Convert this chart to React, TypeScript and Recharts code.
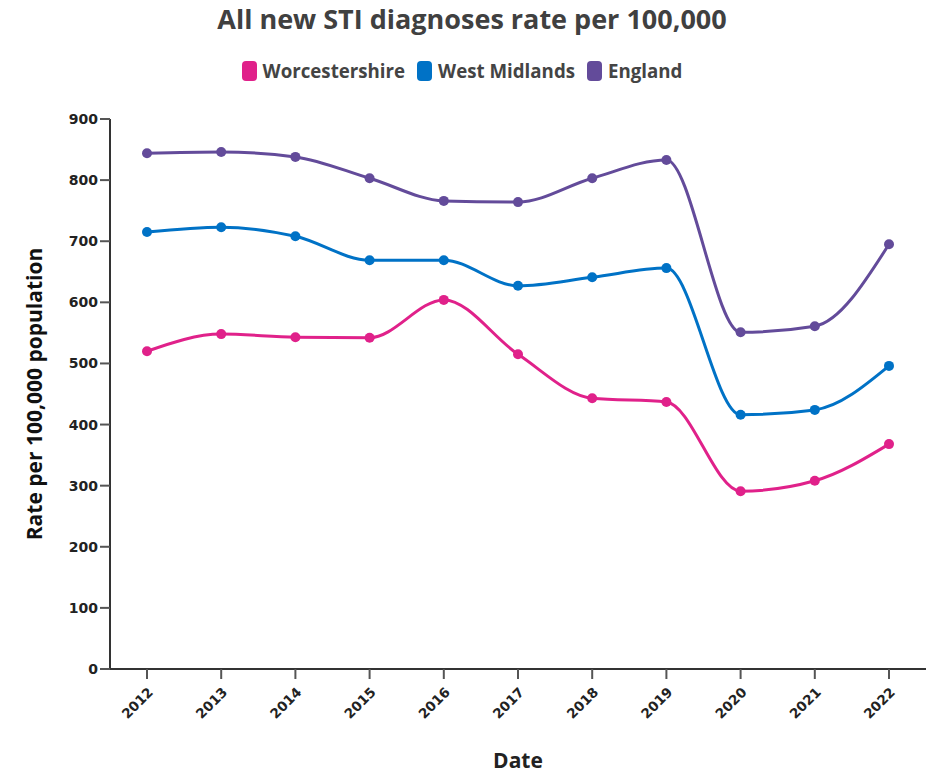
import * as React from 'react';
import {Line, LineChart, XAxis, YAxis} from 'recharts';

const years = ['2012', '2013', '2014', '2015', '2016', '2017', '2018', '2019', '2020', '2021', '2022'];
const worcestershire = [520, 548, 543, 542, 604, 515, 443, 437, 291, 308, 368];
const westMidlands = [715, 723, 708, 669, 669, 627, 641, 656, 416, 424, 496];
const england = [844, 846, 838, 803, 766, 764, 803, 833, 551, 561, 695];
const yTicks = [0, 100, 200, 300, 400, 500, 600, 700, 800, 900];

const series = [
    {key: 'Worcestershire', color: '#e0218a'},
    {key: 'West Midlands', color: '#0072c6'},
    {key: 'England', color: '#634b9a'},
];

const data = years.map((y, i) => ({
    year: y,
    Worcestershire: worcestershire[i],
    'West Midlands': westMidlands[i],
    England: england[i],
}));

const FONT = '"Open Sans", sans-serif';
const TICK_FONT = '"DejaVu Sans", sans-serif';

const XTick = (props: any) => {
    const {x, y, payload} = props;
    return (
        <text x={x + 7} y={y + 12} transform={`rotate(-45, ${x + 7}, ${y + 12})`} textAnchor="end"
              fontFamily={TICK_FONT} fontWeight={700} fontSize={13.5} fill="#222">
            {payload.value}
        </text>
    );
};

export default function App() {
    return (
        <div style={{position: 'relative', width: 928, height: 766}}>
            <div style={{position: 'absolute', left: 0, top: -8, width: 928, textAlign: 'center', fontFamily: FONT,
                fontWeight: 700, fontSize: 27, color: '#404040', lineHeight: 'normal'}}>
                All new STI diagnoses rate per 100,000
            </div>
            <div style={{position: 'absolute', left: 0, top: 52, width: 928, boxSizing: 'border-box', paddingRight: 20,
                display: 'flex', justifyContent: 'center', gap: 12, fontFamily: FONT, fontWeight: 700, fontSize: 18.7,
                lineHeight: '22px', color: '#444'}}>
                {series.map(s => (
                    <div key={s.key} style={{display: 'flex', alignItems: 'center', gap: 6}}>
                        <span style={{width: 15, height: 20, borderRadius: 4, background: s.color, display: 'inline-block'}}/>
                        <span>{s.key}</span>
                    </div>
                ))}
            </div>
            <LineChart width={928} height={766} data={data} margin={{top: 111, right: 10, left: 0, bottom: 0}}>
                <XAxis dataKey="year" interval={0} padding={{left: 37, right: 37}} height={105}
                       tick={<XTick/>} tickSize={10} tickLine={{stroke: '#555', strokeWidth: 2}}
                       axisLine={{stroke: '#333', strokeWidth: 2}}
                       label={{value: 'Date', position: 'insideBottom', offset: 6, fontFamily: FONT,
                           fontWeight: 700, fontSize: 21, fill: '#222'}}/>
                <YAxis domain={[0, 900]} ticks={yTicks} width={102} tickSize={10}
                       tickLine={{stroke: '#555', strokeWidth: 2}} axisLine={{stroke: '#333', strokeWidth: 2}}
                       tick={{fontFamily: TICK_FONT, fontWeight: 700, fontSize: 14, fill: '#222'}}
                       label={{value: 'Rate per 100,000 population', angle: -90, position: 'center', dx: -24,
                           fontFamily: FONT, fontWeight: 700, fontSize: 21, fill: '#111'}}/>
                {series.map(s => (
                    <Line key={s.key} type="monotone" dataKey={s.key} stroke={s.color} strokeWidth={3}
                          dot={{r: 5, fill: s.color, stroke: s.color, strokeWidth: 0}} activeDot={false}
                          isAnimationActive={false}/>
                ))}
            </LineChart>
        </div>
    );
}
